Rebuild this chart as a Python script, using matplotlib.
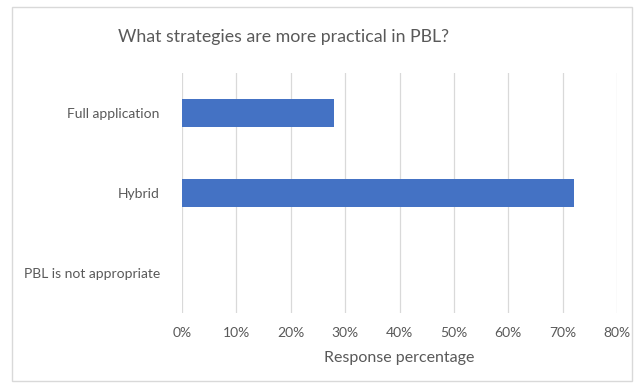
import matplotlib.pyplot as plt
from matplotlib.patches import Rectangle
from matplotlib.ticker import PercentFormatter

categories = ["Full application", "Hybrid", "PBL is not appropriate"]
values = [28, 72, 0]
xticks = [0, 10, 20, 30, 40, 50, 60, 70, 80]

plt.rcParams['font.family'] = ['Lato', 'DejaVu Sans']

fig = plt.figure(figsize=(6.38, 3.86), dpi=100)
fig.patch.set_facecolor('white')
# chart border
fig.patches.append(Rectangle((12 / 638, 1 - 381 / 386), 620 / 638, 374 / 386,
                             transform=fig.transFigure, fill=False,
                             edgecolor='#d9d9d9', linewidth=1))

ax = fig.add_axes([182 / 638, 1 - 313 / 386, (617 - 182) / 638, (313 - 73) / 386])
y = list(range(len(categories)))
ax.barh(y, values, height=0.36, color='#4472c4')
ax.set_ylim(len(categories) - 0.5, -0.5)
ax.set_xlim(0, 80)
ax.set_xticks(xticks)
ax.xaxis.set_major_formatter(PercentFormatter(decimals=0))
ax.set_yticks(y)
ax.set_yticklabels(categories)
ax.grid(axis='x', color='#d9d9d9', linewidth=0.9)
ax.set_axisbelow(True)
for s in ax.spines.values():
    s.set_visible(False)
ax.tick_params(axis='both', length=0, labelsize=10, labelcolor='#595959')
ax.tick_params(axis='x', pad=10)
ax.tick_params(axis='y', pad=16)
ax.set_xlabel("Response percentage", fontsize=11.5, color='#595959', labelpad=9)

fig.text(283 / 638, 1 - 37 / 386, "What strategies are more practical in PBL?",
         ha='center', va='center', fontsize=12.8, color='#595959')

fig.savefig("out.png", dpi=100)
